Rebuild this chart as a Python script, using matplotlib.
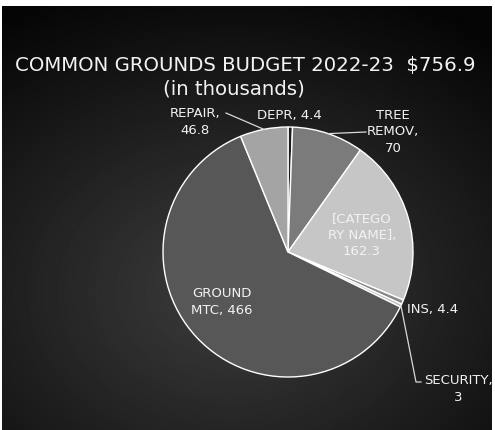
import numpy as np
import matplotlib
matplotlib.use("Agg")
import matplotlib.pyplot as plt

# data
labels = ["DEPR", "TREE\nREMOV", "[CATEGO\nRY NAME]", "INS", "SECURITY", "GROUND\nMTC", "REPAIR"]
values = [4.4, 70, 162.3, 4.4, 3, 466, 46.8]
colors = ["#1c1c1c", "#7b7b7b", "#c6c6c6", "#8a8a8a", "#bdbdbd", "#575757", "#a4a4a4"]

W, H = 495, 431
cx, cy, r = 288, H - 253, 125

fig = plt.figure(figsize=(W / 100, H / 100), dpi=100, facecolor="white")
ax = fig.add_axes([0, 0, 1, 1])

# radial gradient background (lighter lower-middle, dark corners)
yy, xx = np.mgrid[0:H, 0:W]
d = np.sqrt(((xx - 230) / 380.0) ** 2 + ((yy - 290) / 300.0) ** 2)
bg = np.clip(0.24 - 0.2 * d, 0.02, 1)
ax.imshow(bg, cmap="gray", vmin=0, vmax=1, extent=[2, W - 3, 0, H - 7],
          origin="upper", zorder=0, interpolation="bilinear")

wedges, _ = ax.pie(values, colors=colors, startangle=90, counterclock=False,
                   center=(cx, cy), radius=r,
                   wedgeprops=dict(edgecolor="white", linewidth=1.0))
for w in wedges:
    w.set_zorder(2)

ax.set_xlim(0, W)
ax.set_ylim(0, H)
ax.set_aspect("equal")
ax.axis("off")


def edge_pt(w):
    a = np.deg2rad((w.theta1 + w.theta2) / 2)
    return cx + r * np.cos(a), cy + r * np.sin(a)


tc = "#f2f2f2"
lc = "#d8d8d8"
fs = 9.5
title = "COMMON GROUNDS BUDGET 2022-23  $%s" % round(sum(values), 1)
ax.text(245, H - 65, title, color=tc, fontsize=14.2, ha="center", va="center")
ax.text(234, H - 89, "(in thousands)", color=tc, fontsize=14.2, ha="center", va="center")

def lab(i):
    return "%s, %s" % (labels[i], ("%g" % values[i]))

# DEPR
ax.text(289, H - 115, lab(0), color=tc, fontsize=fs, ha="center", va="center")
# TREE REMOV
ax.text(393, H - 132, "TREE\nREMOV,\n%g" % values[1], color=tc, fontsize=fs,
        ha="center", va="center", linespacing=1.35)
x0, y0 = edge_pt(wedges[1])
ax.plot([x0, 366], [y0, H - 133], color=lc, lw=0.9, zorder=3)
# CATEGORY
ax.text(362, H - 235, "[CATEGO\nRY NAME],\n%g" % values[2], color=tc, fontsize=fs,
        ha="center", va="center", linespacing=1.35, zorder=4)
# INS
ax.text(407, H - 309, lab(3), color=tc, fontsize=fs, ha="left", va="center")
# SECURITY
ax.text(458, H - 389, "SECURITY,\n%g" % values[4], color=tc, fontsize=fs,
        ha="center", va="center", linespacing=1.35)
x0, y0 = edge_pt(wedges[4])
ax.plot([x0, 416, 421], [y0, H - 383, H - 383], color=lc, lw=0.9, zorder=3)
# GROUND MTC
ax.text(222, H - 302, "GROUND\nMTC, %g" % values[5], color=tc, fontsize=fs,
        ha="center", va="center", linespacing=1.35, zorder=4)
# REPAIR
ax.text(195, H - 122, "REPAIR,\n%g" % values[6], color=tc, fontsize=fs,
        ha="center", va="center", linespacing=1.35)
x0, y0 = edge_pt(wedges[6])
ax.plot([226, x0], [H - 114, y0], color=lc, lw=0.9, zorder=3)

fig.savefig("out.png", dpi=100, facecolor="white")
